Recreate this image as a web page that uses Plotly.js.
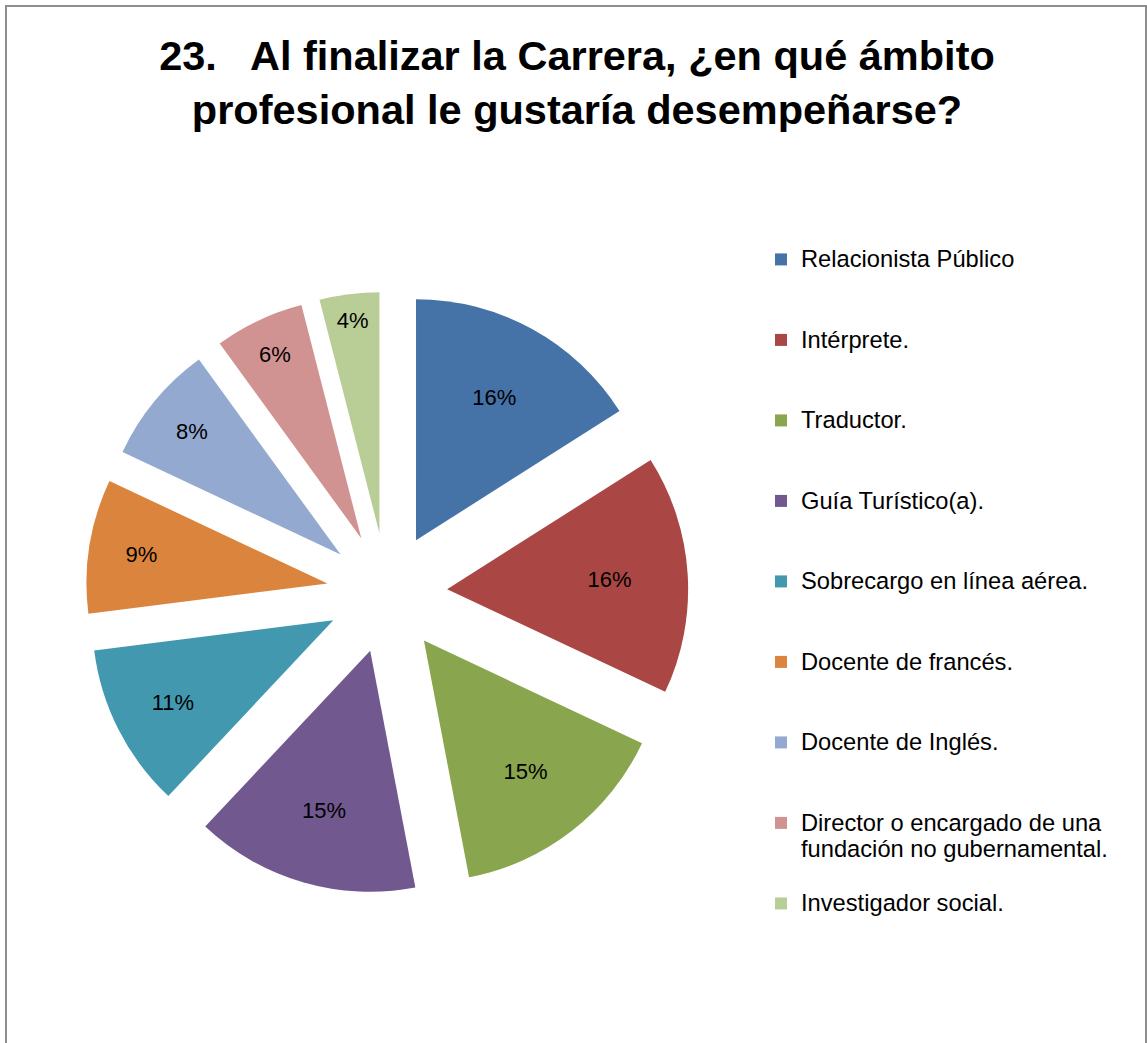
<!DOCTYPE html>
<html>
<head>
<meta charset="utf-8">
<script src="https://cdn.plot.ly/plotly-3.0.1.min.js"></script>
<style>
  html, body { margin: 0; padding: 0; background: #ffffff; }
  #chart { width: 1147px; height: 1043px; }
</style>
</head>
<body>
<div id="chart"></div>
<script>
// ---- data ----
const categories = [
  "Relacionista Público",
  "Intérprete.",
  "Traductor.",
  "Guía Turístico(a).",
  "Sobrecargo en línea aérea.",
  "Docente de francés.",
  "Docente de Inglés.",
  "Director o encargado de una fundación no gubernamental.",
  "Investigador social."
];
const percentValues = [16, 16, 15, 15, 11, 9, 8, 6, 4];
const sliceColors = ["#4572A7", "#AA4643", "#89A54E", "#71588F", "#4198AF",
                     "#DB843D", "#93A9CF", "#D19392", "#B9CD96"];
const chartTitle = "23.\u00a0\u00a0 Al finalizar la Carrera, ¿en qué ámbito<br>profesional le gustaría desempeñarse?";

// ---- presentation helpers ----
const W = 1147, H = 1043;
const FONT = "Liberation Sans, Arial, sans-serif";
const LEGEND_TEXT_PX = 23.7;
const LINES_PER_ENTRY = 3;

function wrap(text, maxChars) {
  const words = text.split(" ");
  const lines = [];
  let cur = "";
  words.forEach(w => {
    if (cur && (cur + " " + w).length > maxChars) { lines.push(cur); cur = w; }
    else { cur = cur ? cur + " " + w : w; }
  });
  if (cur) lines.push(cur);
  return lines;
}

const legendLabels = categories.map(c => {
  const lines = wrap(c, 28);
  let s = '<span style="font-size:' + LEGEND_TEXT_PX + 'px">' + lines.join("<br>") + "</span>";
  for (let i = lines.length; i < LINES_PER_ENTRY; i++) s += "<br>";
  return s;
});

// pie geometry (pixels)
const cx = 387, cy = 593, R = 241, pull = 0.25;
const half = R * (1 + pull);

const trace = {
  type: "pie",
  labels: legendLabels,
  values: percentValues,
  sort: false,
  direction: "clockwise",
  rotation: 0,
  pull: percentValues.map(() => pull),
  marker: { colors: sliceColors, line: { width: 0 } },
  textinfo: "percent",
  textposition: "inside",
  insidetextorientation: "horizontal",
  textfont: { family: FONT, size: 22, color: "#000000" },
  hoverinfo: "none",
  domain: {
    x: [(cx - half) / W, (cx + half) / W],
    y: [(H - cy - half) / H, (H - cy + half) / H]
  }
};

const legendFontSize = (80.5 - 3) / (1.3 * LINES_PER_ENTRY);

const layout = {
  width: W,
  height: H,
  margin: { l: 0, r: 0, t: 0, b: 0, autoexpand: false },
  paper_bgcolor: "#ffffff",
  plot_bgcolor: "#ffffff",
  showlegend: true,
  title: {
    text: chartTitle,
    font: { family: FONT, size: 41.5, color: "#000000", weight: "bold" },
    x: 577 / W,
    xanchor: "center",
    xref: "container",
    y: 1 - 70 / H,
    yanchor: "top",
    yref: "container"
  },
  legend: {
    x: 761 / W,
    xanchor: "left",
    y: 1 - 240 / H,
    yanchor: "top",
    valign: "top",
    bgcolor: "rgba(0,0,0,0)",
    borderwidth: 0,
    font: { family: FONT, size: legendFontSize, color: "#000000" },
    traceorder: "normal"
  },
  shapes: [{
    type: "rect",
    xref: "paper", yref: "paper",
    x0: 6 / W, x1: 1146 / W,
    y0: -0.05, y1: 1 - 6 / H,
    line: { color: "#8e8e8e", width: 2 },
    fillcolor: "rgba(0,0,0,0)",
    layer: "above"
  }]
};

Plotly.newPlot("chart", [trace], layout, { displayModeBar: false, staticPlot: true });
</script>
</body>
</html>
